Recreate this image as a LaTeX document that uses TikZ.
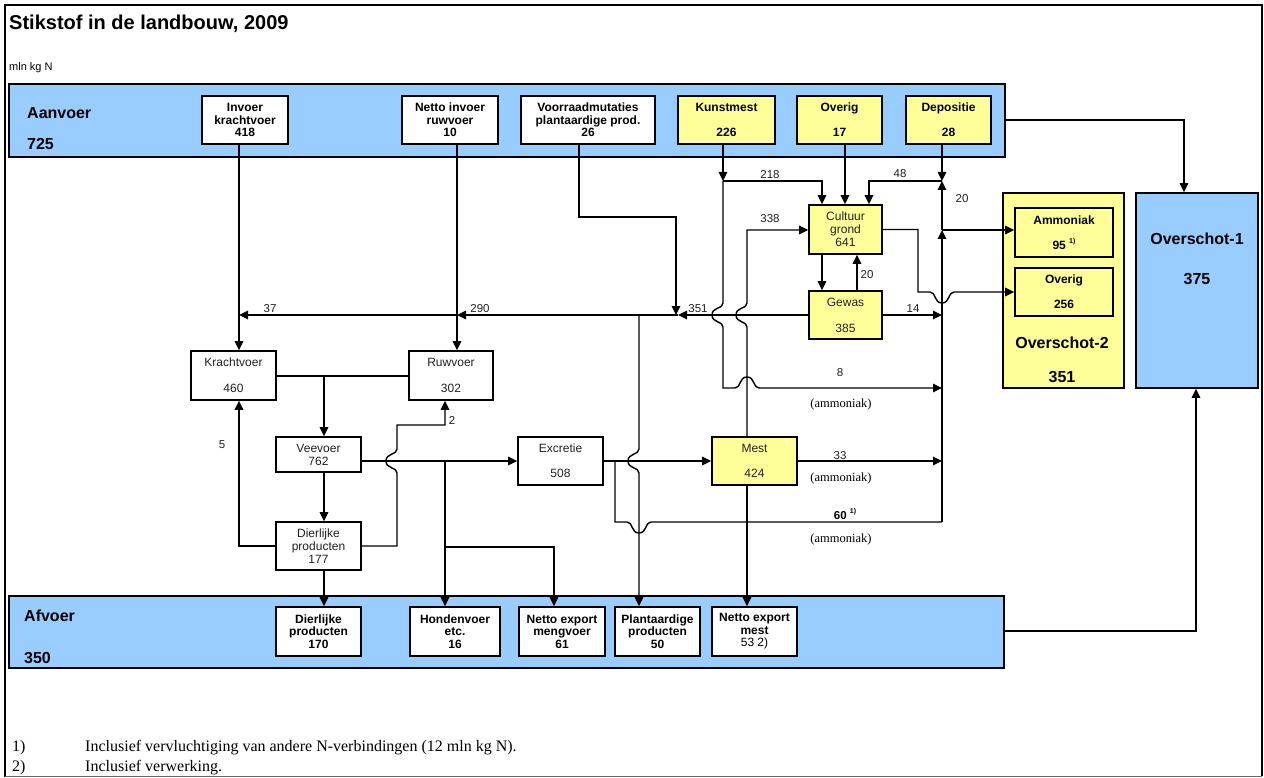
\documentclass[tikz,border=0pt]{standalone}
\usepackage{fontspec}
\setmainfont{Liberation Sans}
\newfontfamily\tnr{Liberation Serif}
\usetikzlibrary{arrows.meta}
\definecolor{bandblue}{HTML}{99CCFF}
\definecolor{boxyellow}{HTML}{FFFF99}
\definecolor{txt}{HTML}{222222}
\newcommand{\myfn}[1]{\raisebox{0.5em}{\fontsize{7}{7}\selectfont #1}}
\begin{document}
\begin{tikzpicture}[x=1pt,y=-1pt,
  band/.style={draw, fill=bandblue, line width=1.7pt, inner sep=0pt},
  bx/.style={draw, line width=1.7pt, inner sep=0pt, align=center, text=black, font=\fontsize{12}{12.5}\selectfont\bfseries},
  wb/.style={bx, fill=white},
  yb/.style={bx, fill=boxyellow},
  mb/.style={draw, fill=white, line width=1.7pt, inner sep=0pt, align=center, text=txt, font=\fontsize{12}{13}\selectfont},
  myb/.style={mb, fill=boxyellow},
  ln/.style={line width=1.45pt},
  ar/.style={ln, -{Triangle[length=9pt,width=8.5pt]}},
  lbl/.style={font=\fontsize{11.5}{12}\selectfont, text=txt, inner sep=0pt, anchor=base},
  amm/.style={font=\tnr\fontsize{12.5}{12.5}\selectfont, inner sep=0pt, anchor=base},
  big/.style={font=\fontsize{16}{18}\selectfont\bfseries, inner sep=0pt},
]
\useasboundingbox (0,0) rectangle (1264,778);
\fill[white] (0,0) rectangle (1264,778);
% frame
\draw[line width=2pt] (1262,776) -- (1262,5) -- (5,5) -- (5,777);
\draw[line width=1pt, black!60] (5,776.5) -- (1262,776.5);

% title
\node[anchor=base west, inner sep=0pt, font=\fontsize{20}{22}\selectfont\bfseries] (title) at (9,30) {Stikstof in de landbouw, 2009};
\node[anchor=base west, inner sep=0pt, font=\fontsize{11}{12}\selectfont] (unit) at (9,71) {mln kg N};

% bands
\node[band, anchor=north west, minimum width=996pt, minimum height=73pt] (aanvoer) at (8,83) {};
\node[band, anchor=north west, minimum width=995pt, minimum height=72pt] (afvoer) at (8,595) {};
\node[big, anchor=base west] (aanvt) at (27,119) {Aanvoer};
\node[big, anchor=base west] (aanvn) at (27,150) {725};
\node[big, anchor=base west] (afvt) at (24,621) {Afvoer};
\node[big, anchor=base west] (afvn) at (24,663) {350};

% Aanvoer boxes
\node[wb, minimum width=86pt, minimum height=48pt] (ik) at (245,120) {Invoer\\krachtvoer\\418};
\node[wb, minimum width=96pt, minimum height=48pt] (nr) at (450,120) {Netto invoer\\ruwvoer\\10};
\node[wb, minimum width=134pt, minimum height=48pt] (vm) at (588,120) {Voorraadmutaties\\plantaardige prod.\\26};
\node[yb, minimum width=97pt, minimum height=48pt] (km) at (726.5,120) {Kunstmest\\[12.5pt]226};
\node[yb, minimum width=85pt, minimum height=48pt] (ov) at (839.5,120) {Overig\\[12.5pt]17};
\node[yb, minimum width=85pt, minimum height=48pt] (dp) at (948.5,120) {Depositie\\[12.5pt]28};

% Overschot
\node[draw, fill=boxyellow, line width=1.7pt, inner sep=0pt, minimum width=121pt, minimum height=195pt] (o2) at (1063.5,290.5) {};
\node[band, minimum width=122pt, minimum height=195pt] (o1) at (1197,290.5) {};
\node[yb, minimum width=98pt, minimum height=49pt] (am) at (1064,232.5) {Ammoniak\\[12.5pt]95 \myfn{1)}};
\node[yb, minimum width=98pt, minimum height=48pt] (ovg) at (1064,292) {Overig\\[12.5pt]256};
\node[big, anchor=base] (o2t) at (1062,348) {Overschot-2};
\node[big, anchor=base] (o2n) at (1062,382) {351};
\node[big, anchor=base] (o1t) at (1197,245) {Overschot-1};
\node[big, anchor=base] (o1n) at (1197,284) {375};

% middle boxes
\node[mb, minimum width=85pt, minimum height=49pt] (kv) at (233.5,375.5) {Krachtvoer\\[13pt]460};
\node[mb, minimum width=84pt, minimum height=49pt] (rv) at (451,375.5) {Ruwvoer\\[13pt]302};
\node[mb, minimum width=85pt, minimum height=35pt] (vv) at (318.5,454.5) {Veevoer\\762};
\node[mb, minimum width=85pt, minimum height=48pt] (dpr) at (318.5,546) {Dierlijke\\producten\\177};
\node[mb, minimum width=85pt, minimum height=48pt] (ex) at (560.5,461) {Excretie\\[12pt]508};
\node[myb, minimum width=85pt, minimum height=48pt] (me) at (754.5,461) {Mest\\[12pt]424};
\node[myb, minimum width=73pt, minimum height=49pt] (cg) at (845.5,229.5) {Cultuur\\grond\\641};
\node[myb, minimum width=73pt, minimum height=48pt] (gw) at (845.5,315) {Gewas\\[13pt]385};

% Afvoer boxes
\node[wb, minimum width=85pt, minimum height=49pt] (a1) at (318.5,631.5) {Dierlijke\\producten\\170};
\node[wb, minimum width=90pt, minimum height=49pt] (a2) at (455,631.5) {Hondenvoer\\etc.\\16};
\node[wb, minimum width=86pt, minimum height=49pt] (a3) at (562,631.5) {Netto export\\mengvoer\\61};
\node[wb, minimum width=85pt, minimum height=49pt] (a4) at (657.5,631.5) {Plantaardige\\producten\\50};
\node[wb, minimum width=85pt, minimum height=49pt] (a5) at (754.5,631.5) {Netto export\\mest\\{\mdseries 53 2)}};

% junction coordinates
\coordinate (kx) at (723,181);
\coordinate (j218) at (822,181);
\coordinate (j17) at (845,181);
\coordinate (j48) at (869,181);
\coordinate (dx) at (942,181);
\coordinate (jam) at (942,230);
\coordinate (c60) at (942,522);
\coordinate (cgb) at (918,292);
\coordinate (j338) at (747,230);
\coordinate (jgc) at (857,273);
\coordinate (vt) at (579,217);
\coordinate (vb) at (676,217);
\coordinate (j351) at (676,315);
\coordinate (j351r) at (678,315);
\coordinate (j290) at (457,315);
\coordinate (j37) at (239,315);
\coordinate (jpl) at (639,315);
\coordinate (jv) at (324,376);
\coordinate (j2) at (445,425);
\coordinate (jh) at (445,461);
\coordinate (jm) at (445,547);
\coordinate (jm2) at (554,547);
\coordinate (j60) at (615,461);
\coordinate (o1a) at (1184,120);
\coordinate (o1b) at (1196,631);

% connectors: top
\draw[ar] (ik.south -| j37) -- (j37 |- kv.north);
\draw[ar] (nr.south -| j290) -- (j290 |- rv.north);
\draw[ar] (vm.south -| vt) -- (vt) -- (vb) -- (j351);
\draw[ar] (km.south -| kx) -- (kx);
\draw[ar] (kx) -- (j218) -- (j218 |- cg.north);
\draw[ar] (ov.south -| j17) -- (j17 |- cg.north);
\draw[ar] (dp.south -| dx) -- (dx);
\draw[ar] (dx) -- (j48) -- (j48 |- cg.north);
\draw[ar] (c60) -- (jam);
\draw[ar] (jam) -- (dx);
\draw[ar] (jam) -- (jam -| am.west);
\draw[ar] (cg.east) -| (cgb) -- (930,292) .. controls (936,292) and (934,303) .. (942,303) .. controls (950,303) and (948,292) .. (954,292) -- (ovg.west);
\draw[ar] (j218 |- cg.south) -- (j218 |- gw.north);
\draw[ar] (jgc |- gw.north) -- (jgc |- cg.south);
\draw[ar] (gw.east) -- (gw.east -| dx);
\draw[ar] (me.north -| j338) -- (747,327) .. controls (747,321) and (736,323) .. (736,315) .. controls (736,307) and (747,309) .. (747,303) -- (j338) -- (j338 -| cg.west);
% Kunstmest continuation -> 8
\draw[ar] (kx) -- (723,303) .. controls (723,309) and (712,307) .. (712,315) .. controls (712,323) and (723,321) .. (723,327) -- (723,388) -- (735,388) .. controls (741,388) and (739,377) .. (747,377) .. controls (755,377) and (753,388) .. (759,388) -- (942,388);
% 351 line
\draw[ar] (gw.west) -- (j351r);
\draw[ar] (j351r) -- (j290);
\draw[ar] (j290) -- (j37);
% middle
\draw[ln] (kv.east |- jv) -- (rv.west |- jv);
\draw[ar] (jv) -- (jv |- vv.north);
\draw[ar] (vv.south -| jv) -- (jv |- dpr.north);
\draw[ar] (dpr.west) -| (j37 |- kv.south);
\draw[ar] (dpr.east) -- (397,546) -- (397,473) .. controls (397,467) and (386,469) .. (386,461) .. controls (386,453) and (397,455) .. (397,449) -- (397,425) -- (j2) -- (j2 |- rv.south);
\draw[ar] (vv.east |- ex.west) -- (ex.west);
\draw[ar] (jh) -- (jh |- a2.north);
\draw[ar] (jm) -- (jm2) -- (jm2 |- a3.north);
\draw[ar] (ex.east) -- (me.west);
\draw[ar] (jpl) -- (639,449) .. controls (639,455) and (628,453) .. (628,461) .. controls (628,469) and (639,467) .. (639,473) -- (jpl |- a4.north);
\draw[ln] (j60) -- (615,522) -- (627,522) .. controls (633,522) and (631,533) .. (639,533) .. controls (647,533) and (645,522) .. (651,522) -- (c60);
\draw[ar] (me.east) -- (me.east -| dx);
\draw[ar] (me.south -| j338) -- (j338 |- a5.north);
\draw[ar] (dpr.south -| jv) -- (jv |- a1.north);
% overschot arrows
\draw[ar] (aanvoer.east |- o1a) -- (o1a) -- (o1a |- o1.north);
\draw[ar] (afvoer.east |- o1b) -- (o1b) -- (o1b |- o1.south);

% labels
\node[lbl] (l37) at (270,312) {37};
\node[lbl] (l290) at (480,312) {290};
\node[lbl] (l351) at (698,312) {351};
\node[lbl] (l218) at (770,179) {218};
\node[lbl] (l48) at (900,178) {48};
\node[lbl] (l20a) at (962,203) {20};
\node[lbl] (l338) at (770,223) {338};
\node[lbl] (l20b) at (867,278) {20};
\node[lbl] (l14) at (913,312) {14};
\node[lbl] (l8) at (840,376) {8};
\node[amm] (am1) at (841,407) {(ammoniak)};
\node[lbl] (l33) at (840,459) {33};
\node[amm] (am2) at (841,481) {(ammoniak)};
\node[lbl, font=\fontsize{11.5}{12}\selectfont\bfseries, text=black] (l60) at (845,519) {60 \myfn{1)}};
\node[amm] (am3) at (841,542) {(ammoniak)};
\node[lbl] (l5) at (222,448) {5};
\node[lbl] (l2) at (452,424) {2};

% footnotes
\node[anchor=base west, inner sep=0pt, font=\tnr\fontsize{16}{16}\selectfont] (f1n) at (12,751) {1)};
\node[anchor=base west, inner sep=0pt, font=\tnr\fontsize{16}{16}\selectfont] (f1) at (85,751) {Inclusief vervluchtiging van andere N-verbindingen (12 mln kg N).};
\node[anchor=base west, inner sep=0pt, font=\tnr\fontsize{16}{16}\selectfont] (f2n) at (12,771) {2)};
\node[anchor=base west, inner sep=0pt, font=\tnr\fontsize{16}{16}\selectfont] (f2) at (85,771) {Inclusief verwerking.};
\end{tikzpicture}
\end{document}
